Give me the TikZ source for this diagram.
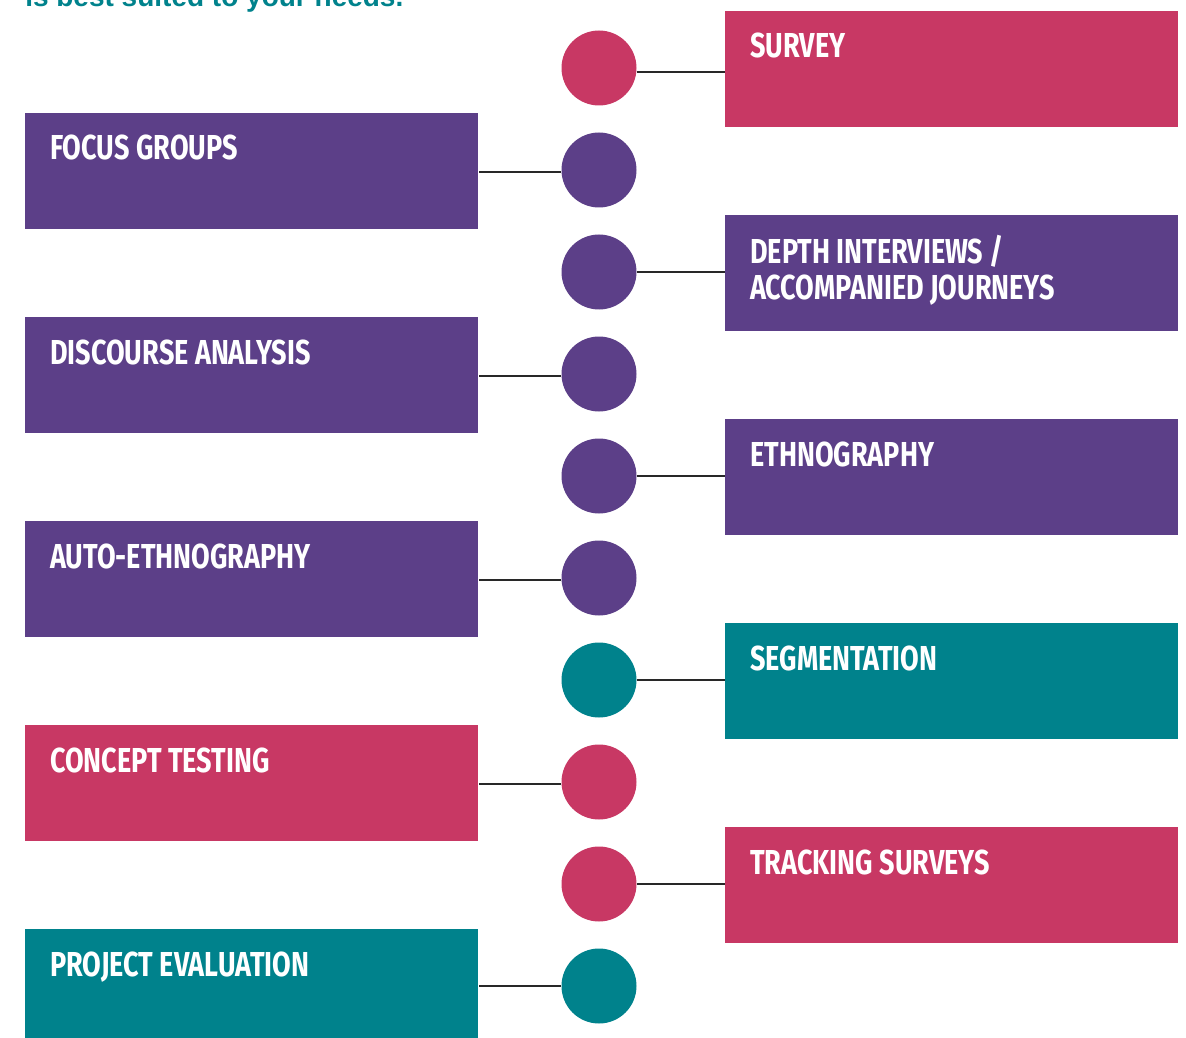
\documentclass[tikz,border=0pt]{standalone}
\usepackage{fontspec}
\newfontfamily\cond[FakeStretch=0.78]{Fira Sans}
\newfontfamily\headf{Liberation Sans}
\definecolor{cpink}{RGB}{200,56,100}
\definecolor{cpurple}{RGB}{92,63,136}
\definecolor{cteal}{RGB}{0,130,140}
\definecolor{cline}{RGB}{40,40,40}
\begin{document}
\begin{tikzpicture}[x=0.75pt,y=-0.75pt,
  box/.style={draw=none, anchor=north west, minimum width=453*0.75pt, minimum height=116*0.75pt, inner sep=0pt},
  dot/.style={circle, draw=none, minimum size=75*0.75pt, inner sep=0pt},
  lbl/.style={anchor=base west, text=white, inner sep=0pt, align=left,
    font=\cond\bfseries\fontsize{26}{27.75}\selectfont},
  conn/.style={draw=cline, line width=0.8pt}]
\useasboundingbox (0,0) rectangle (1186,1038);
\node[anchor=base west, inner sep=0pt, text=cteal, font=\headf\bfseries\fontsize{21}{24}\selectfont] (head) at (25,7) {is best suited to your needs.};

% circles
\node[dot, fill=cpink]   (c1)  at (599,68) {};
\node[dot, fill=cpurple] (c2)  at (599,170) {};
\node[dot, fill=cpurple] (c3)  at (599,272) {};
\node[dot, fill=cpurple] (c4)  at (599,374) {};
\node[dot, fill=cpurple] (c5)  at (599,476) {};
\node[dot, fill=cpurple] (c6)  at (599,578) {};
\node[dot, fill=cteal]   (c7)  at (599,680) {};
\node[dot, fill=cpink]   (c8)  at (599,782) {};
\node[dot, fill=cpink]   (c9)  at (599,884) {};
\node[dot, fill=cteal]   (c10) at (599,986) {};

% boxes
\node[box, fill=cpink]   (b1)  at (725,11) {};
\node[box, fill=cpurple] (b2)  at (25,113) {};
\node[box, fill=cpurple] (b3)  at (725,215) {};
\node[box, fill=cpurple] (b4)  at (25,317) {};
\node[box, fill=cpurple] (b5)  at (725,419) {};
\node[box, fill=cpurple] (b6)  at (25,521) {};
\node[box, fill=cteal]   (b7)  at (725,623) {};
\node[box, fill=cpink]   (b8)  at (25,725) {};
\node[box, fill=cpink]   (b9)  at (725,827) {};
\node[box, fill=cteal]   (b10) at (25,929) {};

% labels
\node[lbl] (t1)  at ([shift={(25,47)}]b1.north west)  {SURVEY};
\node[lbl] (t2)  at ([shift={(25,47)}]b2.north west)  {FOCUS GROUPS};
\node[lbl] (t3)  at ([shift={(25,85)}]b3.north west)  {DEPTH INTERVIEWS /\\ACCOMPANIED JOURNEYS};
\node[lbl] (t4)  at ([shift={(25,47)}]b4.north west)  {DISCOURSE ANALYSIS};
\node[lbl] (t5)  at ([shift={(25,47)}]b5.north west)  {ETHNOGRAPHY};
\node[lbl] (t6)  at ([shift={(25,47)}]b6.north west)  {AUTO-ETHNOGRAPHY};
\node[lbl] (t7)  at ([shift={(25,47)}]b7.north west)  {SEGMENTATION};
\node[lbl] (t8)  at ([shift={(25,47)}]b8.north west)  {CONCEPT TESTING};
\node[lbl] (t9)  at ([shift={(25,47)}]b9.north west)  {TRACKING SURVEYS};
\node[lbl] (t10) at ([shift={(25,47)}]b10.north west) {PROJECT EVALUATION};

% connectors
\draw[conn] ([yshift=-3pt]c1.east) -- ([yshift=-3pt]c1.east -| b1.west);
\draw[conn] ([yshift=-1.5pt]c2.west) -- ([yshift=-1.5pt]c2.west -| b2.east);
\draw[conn] (c3.east) -- (c3.east -| b3.west);
\draw[conn] ([yshift=-1.5pt]c4.west) -- ([yshift=-1.5pt]c4.west -| b4.east);
\draw[conn] (c5.east) -- (c5.east -| b5.west);
\draw[conn] ([yshift=-1.5pt]c6.west) -- ([yshift=-1.5pt]c6.west -| b6.east);
\draw[conn] (c7.east) -- (c7.east -| b7.west);
\draw[conn] ([yshift=-1.5pt]c8.west) -- ([yshift=-1.5pt]c8.west -| b8.east);
\draw[conn] (c9.east) -- (c9.east -| b9.west);
\draw[conn] (c10.west) -- (c10.west -| b10.east);
\end{tikzpicture}
\end{document}
